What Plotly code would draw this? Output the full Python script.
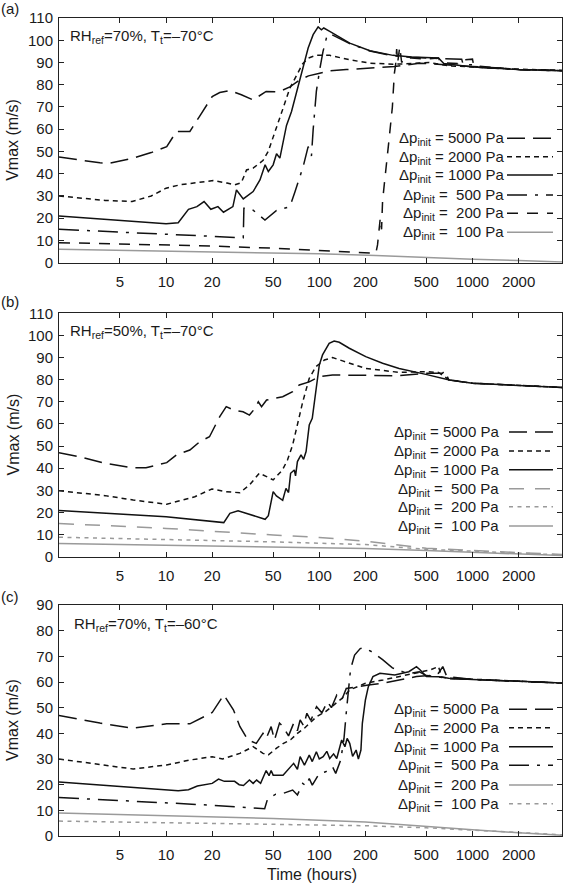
import math
import plotly.graph_objects as go

# ---------------- data (time in hours, Vmax in m/s) ----------------
# panel (a) RH_ref=70%, Tt=-70C
a_5000_t = [2, 2.8, 3.7, 4.3, 6.1, 8, 10.1, 11.7, 14.3, 16.5, 20, 22.4, 26, 31, 37, 45, 52.6, 57, 64.3, 74.7, 85, 100.6, 117, 150, 214, 310, 450, 611, 800, 1000, 1500, 2000, 3000, 3840]
a_5000_v = [47.5, 46.2, 44.9, 44.8, 47, 49.5, 52.2, 59, 59, 65.7, 74.7, 76.5, 77.4, 75.5, 73.2, 77, 76.8, 77.4, 79, 82.2, 84, 85.2, 86.3, 86.8, 87.5, 88.2, 89.7, 89, 88.5, 88.2, 87.5, 86.8, 86.6, 86.3]

a_2000_t = [2, 3, 4, 6, 8, 10, 12.3, 14, 20.3, 25, 28.1, 31, 33.5, 37, 43, 46.4, 52.6, 58.1, 64.3, 71.1, 78, 85, 95, 117, 158, 214, 303, 400, 520, 700, 1000, 2000, 3840]
a_2000_v = [30, 28.8, 28, 27.5, 30, 33.5, 35, 35.5, 36.9, 35.8, 35, 36, 41.7, 42.5, 46, 50, 60.5, 69.5, 78.5, 84.5, 89.5, 92, 93.2, 93.2, 91.2, 89.7, 89.2, 89.5, 90, 88.5, 88, 87, 86.5]

a_1000_t = [2, 10, 12, 14, 15.9, 17.7, 19.6, 21.8, 23.7, 27.3, 28.8, 31.9, 37, 41, 44.3, 46.5, 50, 52.6, 55.3, 58.1, 61.1, 65.9, 71.1, 74.7, 78.5, 84.6, 91.2, 98.3, 103.3, 107, 117, 158, 214, 303, 400, 600, 650, 1000, 2000, 3840]
a_1000_v = [21, 17.5, 18, 24, 25.2, 27.5, 24, 25.2, 22.7, 25.2, 32.7, 28.7, 32, 37.2, 44, 41, 44, 49, 47, 55, 61.7, 68, 77, 83, 89, 96.5, 102.5, 106, 104.7, 105.5, 104, 98.7, 95.3, 93.2, 92.5, 92, 89.5, 88, 86.8, 86.3]

a_500_t = [2, 10, 20, 31.9, 32.2, 33.5, 37, 44.2, 52.6, 64.3, 69.5, 78.5, 84.6, 88.9, 91.2, 95.7, 100.6, 105.8, 111.3, 117, 158, 214, 303, 400, 600, 850, 870, 1000, 1020, 2000, 3840]
a_500_v = [15, 12.8, 12, 11.2, 24.5, 24.5, 23.6, 19.2, 23.5, 25.2, 32, 43.2, 52.2, 48, 59.7, 77, 86.7, 95, 101, 103, 98.5, 95.2, 93, 92.3, 91.8, 91.5, 89, 89, 88, 86.8, 86.3]

a_200_t = [2, 10, 20, 50, 100, 234, 240, 246, 250, 255, 259, 285, 300, 309, 315, 320, 325, 335, 345, 360, 400, 500, 600, 620, 800, 830, 1000, 1020, 2000, 3840]
a_200_v = [9, 8, 7.5, 6.5, 5.5, 4.2, 8, 18, 20, 15, 28, 55, 70, 85, 89, 96, 90, 97, 90, 92, 92, 91.5, 92, 90, 89.5, 91, 91.5, 88.5, 86.8, 86.3]

a_100_t = [2, 10, 50, 100, 234, 500, 1000, 2000, 3840]
a_100_v = [6, 5.3, 4.5, 4, 3.2, 2.3, 1.6, 1, 0.3]

# panel (b) RH_ref=50%, Tt=-70C
b_5000_t = [2, 2.8, 4, 5.96, 7.4, 10.1, 11.7, 14.3, 16.6, 19.2, 22.4, 24.7, 27.5, 31.8, 35, 38, 40, 42, 45.3, 52.5, 57.7, 67, 74, 86, 100, 122, 201, 332, 496, 637, 660, 700, 1000, 2000, 3840]
b_5000_v = [47, 45, 42.2, 40.2, 40.2, 42.5, 46, 48.2, 52, 54.2, 63.3, 67.8, 66.3, 65.5, 64, 67, 70, 67.8, 70.8, 71.6, 72.3, 74.6, 77.6, 79, 81.4, 82.1, 81.8, 81.8, 82.9, 82.9, 84, 79.9, 78.4, 77.3, 76.5]

b_2000_t = [2, 4, 6.1, 10.1, 15.4, 19.9, 24.7, 30.3, 35, 40.6, 45.3, 50, 57.5, 62, 67, 72, 78, 86, 95, 108, 122, 142, 201, 332, 496, 600, 700, 1000, 2000, 3840]
b_2000_v = [29.8, 27.6, 25.6, 23.7, 27.1, 30.6, 29.4, 28.9, 32.4, 37.7, 36.2, 34.7, 39.2, 43.7, 50.5, 60.3, 70, 80.6, 85.9, 88.9, 90, 88.5, 85.1, 83.3, 83.6, 83.3, 80, 78.4, 77.3, 76.5]

b_1000_t = [2, 10, 23.8, 26.1, 29.5, 37, 44.3, 46.5, 50, 52.5, 57.7, 60.6, 63, 65, 68.7, 70, 72, 76, 79, 82, 86, 90, 95, 100, 105, 116, 125, 135, 157, 201, 259, 332, 496, 706, 1000, 2000, 3840]
b_1000_v = [20.9, 18, 15.4, 19.6, 20.8, 18.5, 16.9, 18.5, 29.4, 27.5, 25.5, 30.9, 29, 37.7, 39.2, 36.5, 43, 46, 44, 47.5, 59.5, 62.5, 76, 86.6, 91.2, 96.4, 97.5, 96.9, 94.2, 90.4, 87.4, 85.1, 82.4, 79.9, 78.4, 77.3, 76.5]

b_500_t = [2, 10, 50, 100, 200, 500, 1000, 2000, 3840]
b_500_v = [15, 12.8, 9.8, 8.7, 7, 3.8, 2.8, 1.8, 1]

b_200_t = [2, 10, 50, 200, 500, 1000, 2000, 3840]
b_200_v = [8.8, 7.8, 6.7, 5.5, 3.3, 2.5, 1.5, 0.8]

b_100_t = [2, 50, 200, 500, 1000, 2000, 3840]
b_100_v = [6, 4.5, 3.7, 2.8, 2, 1.2, 0.5]

# panel (c) RH_ref=70%, Tt=-60C
c_5000_t = [2, 3.7, 6.1, 10.1, 14.3, 20, 23.8, 27.5, 30.3, 34.2, 38.8, 42.9, 45, 48.5, 51, 55, 58, 63, 68, 72, 75, 79, 83, 88, 96, 104, 113, 120, 130, 140, 150, 174, 209, 261, 335, 431, 520, 600, 640, 680, 1000, 2000, 3840]
c_5000_v = [47, 44, 42, 43.7, 43.7, 48.1, 55, 49.2, 42.7, 37.4, 36.1, 40, 38, 42.6, 37.4, 44, 42.6, 39, 43.9, 41, 45.2, 43, 47.8, 45, 50.4, 48, 52.3, 50, 54.9, 53, 57.5, 58.2, 58.8, 59.5, 60.8, 62.1, 62.5, 63.4, 66, 62.1, 61, 60.3, 59.6]

c_2000_t = [2, 3.7, 6.1, 10.1, 14.3, 20, 23.4, 30.3, 37, 42.9, 46.5, 52.6, 58, 65, 72, 80, 96, 110, 128, 140, 158, 200, 261, 335, 431, 530, 600, 630, 700, 1000, 2000, 3840]
c_2000_v = [30, 27.7, 26.1, 27.7, 29.6, 30.9, 30, 32.2, 34.8, 32.2, 31.6, 34.2, 36, 37.5, 40, 42, 46.5, 48.5, 51.7, 53.5, 56.9, 59.5, 60.8, 62.1, 63.4, 64.7, 66, 62, 61.5, 61, 60.3, 59.6]

c_1000_t = [2, 12, 14, 16, 20, 22, 24, 28, 30, 32, 35, 37, 39, 41.4, 45, 47, 48.5, 50, 58, 68, 72, 75, 80, 86, 90, 95.7, 100, 106, 112, 117, 124, 130, 140, 147, 152, 158, 165, 174, 180, 187, 191, 200, 209, 224, 249, 311, 384, 431, 456, 500, 600, 700, 1000, 2000, 3840]
c_1000_v = [21, 17.6, 18, 19.5, 20.5, 22.2, 21.3, 21.3, 20, 19.7, 21.8, 20.5, 21.8, 20.5, 25.5, 23.5, 25.5, 23.7, 23.7, 28.3, 26, 30.9, 27.6, 31.5, 29, 32.8, 30, 30.9, 33, 30.2, 32, 30.2, 37.4, 34.8, 38, 36.1, 31, 33.5, 30, 33.5, 43.9, 53, 58.2, 62.1, 63.4, 62.7, 64, 66, 64.7, 62.1, 62, 61.5, 61, 60.3, 59.6]

c_500_t = [2, 10, 20, 44, 46, 52, 58, 67, 72, 78, 82, 86, 90, 100, 110, 122, 128, 138, 145, 150, 155, 160, 170, 185, 195, 217, 259, 300, 350, 400, 450, 500, 600, 700, 1000, 2000, 3840]
c_500_v = [15, 13, 12, 10.6, 14.5, 16.3, 16.6, 17.9, 16, 20.5, 19.5, 22.4, 19.8, 24.4, 25, 27, 24.4, 29.6, 38, 48, 58, 65, 70.5, 73, 73.3, 72, 68.7, 65.5, 64, 63.5, 64, 62.5, 62, 61.3, 61, 60.3, 59.6]

c_200_t = [2, 10, 50, 200, 500, 1000, 2000, 3840]
c_200_v = [9, 8, 6.8, 5.5, 3.6, 2.4, 1.3, 0.3]

c_100_t = [2, 50, 200, 500, 1000, 2000, 3840]
c_100_v = [5.8, 4.5, 4, 3.2, 2.2, 1.3, 0.5]

x_ticks = [5, 10, 20, 50, 100, 200, 500, 1000, 2000]
x_range_hours = [2, 3840]
y_ranges = [[0, 110], [0, 110], [0, 90]]
panel_tags = ["(a)", "(b)", "(c)"]
panel_titles = ["RH<sub>ref</sub>=70%, T<sub>t</sub>=–70°C",
                "RH<sub>ref</sub>=50%, T<sub>t</sub>=–70°C",
                "RH<sub>ref</sub>=70%, T<sub>t</sub>=–60°C"]
legend_labels = ["Δp<sub>init</sub> = 5000 Pa", "Δp<sub>init</sub> = 2000 Pa",
                 "Δp<sub>init</sub> = 1000 Pa", "Δp<sub>init</sub> =\u00a0\u00a0500 Pa",
                 "Δp<sub>init</sub> =\u00a0\u00a0200 Pa", "Δp<sub>init</sub> =\u00a0\u00a0100 Pa"]

# ---------------- styles ----------------
W, H = 566, 888
ML, MR, MT, MB = 59, 4, 18, 52
PW = W - ML - MR
PH = H - MT - MB


def px(x):
    return (x - ML) / PW


def py(y):
    return (H - MB - y) / PH


BLACK = "#111111"
GRAY = "#9a9a9a"
LONG = "18px,8px"
SHORT = "5px,4px"
DASHDOT = "20px,8px,3px,8px"
MED = "11px,9px"
GLONG = "15px,11px"
GSHORT = "4px,4.5px"

panels = [
    [(a_5000_t, a_5000_v, BLACK, LONG), (a_2000_t, a_2000_v, BLACK, SHORT),
     (a_1000_t, a_1000_v, BLACK, "solid"), (a_500_t, a_500_v, BLACK, DASHDOT),
     (a_200_t, a_200_v, BLACK, MED), (a_100_t, a_100_v, GRAY, "solid")],
    [(b_5000_t, b_5000_v, BLACK, LONG), (b_2000_t, b_2000_v, BLACK, SHORT),
     (b_1000_t, b_1000_v, BLACK, "solid"), (b_500_t, b_500_v, GRAY, GLONG),
     (b_200_t, b_200_v, GRAY, GSHORT), (b_100_t, b_100_v, GRAY, "solid")],
    [(c_5000_t, c_5000_v, BLACK, LONG), (c_2000_t, c_2000_v, BLACK, SHORT),
     (c_1000_t, c_1000_v, BLACK, "solid"), (c_500_t, c_500_v, BLACK, DASHDOT),
     (c_200_t, c_200_v, GRAY, "solid"), (c_100_t, c_100_v, GRAY, GSHORT)],
]

# pixel geometry of panels (top, bottom)
panel_px = [(18, 262.7), (313.3, 556.7), (605, 836)]
legend_text_right = [506, 501, 501]
legend_line_x = [(507, 553), (509, 553), (509, 553)]
legend_rows = [[138.3, 156.7, 175, 195, 213.3, 232.3],
               [432, 451, 469.7, 488.7, 506.7, 526],
               [709.3, 727.7, 746.7, 765.3, 785, 803.7]]
title_pos = [(68, 35), (68, 330), (72, 622.7)]
tag_y = [8, 301, 596]

FONT = "Liberation Sans, Arial, sans-serif"
TXT = "#1a1a1a"

fig = go.Figure()
shapes = []
annotations = []

for i, series in enumerate(panels):
    xa = "x" if i == 0 else f"x{i+1}"
    ya = "y" if i == 0 else f"y{i+1}"
    for (t, v, col, dash) in series:
        fig.add_trace(go.Scatter(x=t, y=v, mode="lines", xaxis=xa, yaxis=ya,
                                 line=dict(color=col, width=1.5, dash=dash),
                                 showlegend=False, hoverinfo="skip"))
    top, bot = panel_px[i]
    dom = [max(0.0, py(bot)), min(1.0, py(top))]
    axis_common = dict(showline=True, linecolor="#222", linewidth=1, mirror="allticks",
                       ticks="inside", ticklen=5, tickcolor="#222", showgrid=False,
                       zeroline=False, tickfont=dict(family=FONT, size=15, color=TXT))
    fig.layout[f"xaxis{'' if i == 0 else i+1}"] = dict(
        type="log", range=[math.log10(x_range_hours[0]), math.log10(x_range_hours[1])],
        tickvals=x_ticks, ticktext=[str(k) for k in x_ticks], anchor=ya,
        domain=[0, 1], ticklabelstandoff=5, **axis_common)
    fig.layout[f"yaxis{'' if i == 0 else i+1}"] = dict(
        range=y_ranges[i], dtick=10, tick0=0, anchor=xa, domain=dom,
        ticklabelstandoff=2, **axis_common)

    # legend (text right aligned, sample to the right)
    lx0, lx1 = legend_line_x[i]
    for j, (t, v, col, dash) in enumerate(series):
        yy = legend_rows[i][j]
        annotations.append(dict(x=px(legend_text_right[i]), y=py(yy + 0.5), xref="paper", yref="paper",
                                text=legend_labels[j], showarrow=False, xanchor="right",
                                yanchor="middle", font=dict(family=FONT, size=15, color=TXT)))
        shapes.append(dict(type="line", xref="paper", yref="paper",
                           x0=px(lx0), x1=px(lx1), y0=py(yy), y1=py(yy),
                           line=dict(color=col, width=1.5, dash=dash)))
    # panel title and tag
    tx, ty = title_pos[i]
    annotations.append(dict(x=px(tx), y=py(ty + 1.5), xref="paper", yref="paper",
                            text=panel_titles[i], showarrow=False, xanchor="left",
                            yanchor="middle", font=dict(family=FONT, size=15, color=TXT)))
    annotations.append(dict(x=px(-1), y=py(tag_y[i]), xref="paper", yref="paper",
                            text=panel_tags[i], showarrow=False, xanchor="left",
                            yanchor="middle", font=dict(family=FONT, size=15, color=TXT)))
    # y-axis title
    annotations.append(dict(x=px(12.5), y=py((top + bot) / 2), xref="paper", yref="paper",
                            text="Vmax (m/s)", showarrow=False, textangle=-90,
                            xanchor="center", yanchor="middle",
                            font=dict(family=FONT, size=16, color=TXT)))

annotations.append(dict(x=px(312), y=py(874), xref="paper", yref="paper",
                        text="Time (hours)", showarrow=False, xanchor="center",
                        yanchor="middle", font=dict(family=FONT, size=16, color=TXT)))

fig.update_layout(width=W, height=H, margin=dict(l=ML, r=MR, t=MT, b=MB),
                  paper_bgcolor="white", plot_bgcolor="white",
                  shapes=shapes, annotations=annotations, showlegend=False)

fig.write_html("out.html", config={"displayModeBar": False},
               post_script="document.body.style.margin='0px';document.body.style.overflow='hidden';")
